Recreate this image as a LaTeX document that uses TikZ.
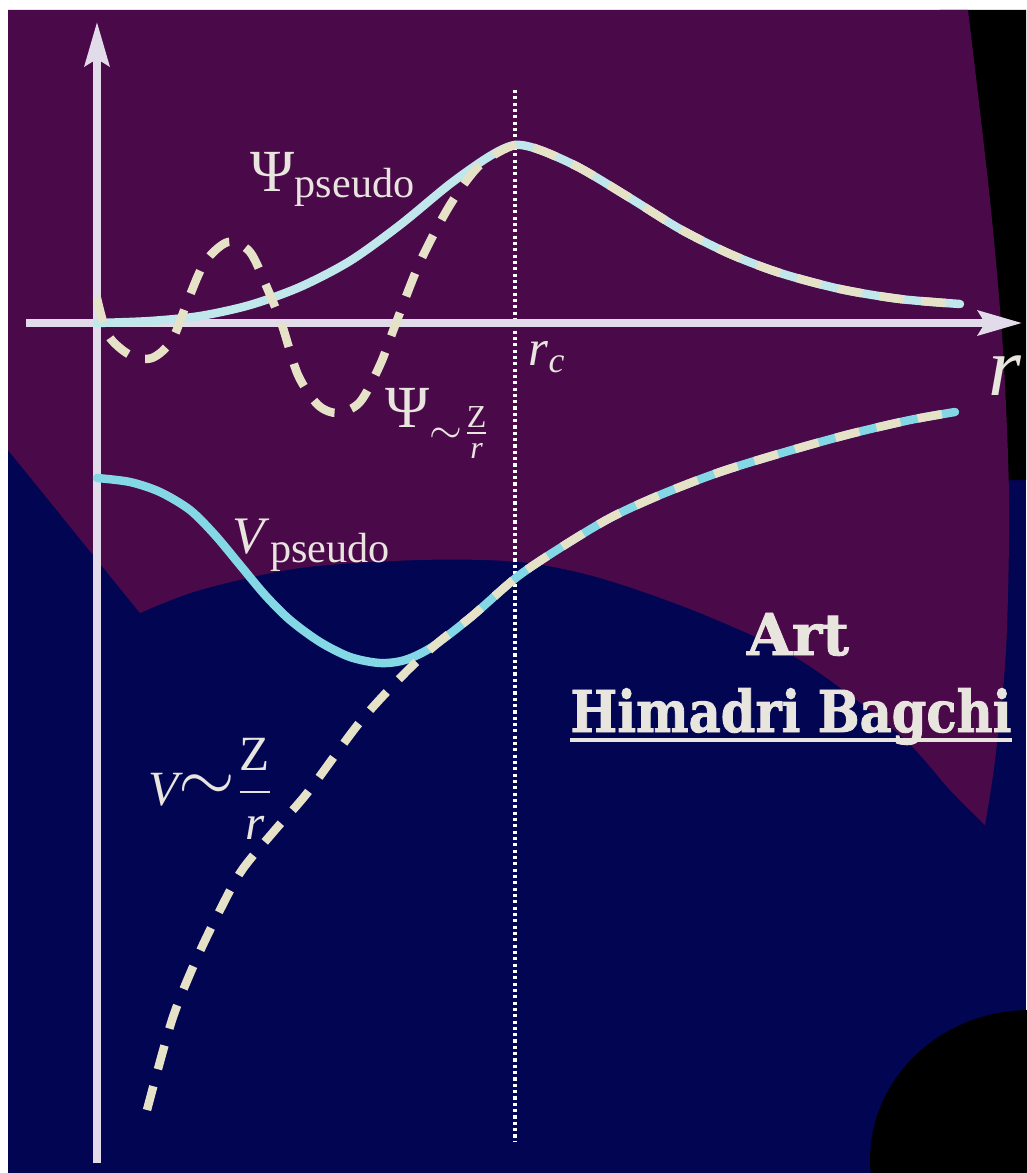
\documentclass[tikz,border=0pt]{standalone}
\usepackage{amsmath}
\usepackage{fontspec}
\setmainfont{Liberation Serif}
\newfontfamily\artfont{DejaVu Serif}[BoldFeatures={FakeBold=1.6}]
\usepackage{xcolor}
\usepackage{tikz}
\usetikzlibrary{arrows.meta, calc}
\definecolor{bgpurple}{HTML}{4A0A4A}
\definecolor{bgnavy}{HTML}{020652}
\definecolor{axiscol}{HTML}{E2DCEA}
\definecolor{psicol}{HTML}{C0E8EC}
\definecolor{vcol}{HTML}{84D8E6}
\definecolor{dashcol}{HTML}{E6E2C8}
\definecolor{labcol}{HTML}{E8E4DE}
\tikzset{
  axis/.style={
    line width=2pt,
    draw=axiscol,
    -{Stealth[length=12.5pt,width=7pt,inset=2pt]}
  },
  solidcurve/.style={
    line width=2.4pt,
    line cap=round
  },
  dashcurve/.style={
    line width=2.4pt,
    draw=dashcol,
    dash pattern=on 7pt off 5pt
  },
  lab/.style={
    text=labcol,
    inner sep=0pt
  },
  artlab/.style={
    text=labcol,
    inner sep=0pt,
    font=\artfont\bfseries\fontsize{16.4}{18}\selectfont
  }
}

\begin{document}
\begin{tikzpicture}[x=0.01cm, y=-0.01cm]
\useasboundingbox[fill=white] (0,0) rectangle (1026,1173);

% Background
\fill[bgnavy] (8,10) rectangle (1026,1173);
\fill[black] (940,10) -- (1026,10) -- (1026,480) -- (990,480) -- cycle;
\fill[bgpurple] (8,10) -- (968,10)
  -- plot[smooth] coordinates {(968,10) (990,200) (1003,350) (1009,500) (1006,650) (995,760) (985,825)}
  -- plot[smooth] coordinates {(985,825) (950,790) (900,735) (800,660) (700,613) (600,578) (520,562) (420,560) (300,568) (200,590) (140,613)}
  -- (8,450) -- cycle;
\fill[black] (1030,1160) ellipse [x radius=160, y radius=150];

% Coordinates
\coordinate (O) at (97,323);
\coordinate (ytop) at (97,22);
\coordinate (ybot) at (97,1163);
\coordinate (xleft) at (26,323);
\coordinate (xright) at (1022,323);
\coordinate (rctop) at (515,90);
\coordinate (rcbot) at (515,1142);

% Axes
\draw[white, line width=1.1pt, dash pattern=on 0.9pt off 0.9pt] (rctop) -- (rcbot);
\draw[axis] (ybot) -- (ytop);
\draw[axis] (xleft) -- (xright);

% Curves
\draw[solidcurve, psicol] plot[smooth] coordinates {(97,323) (150,321) (200,316) (250,305) (300,287) (350,261) (400,225) (450,184) (490,156) (515,145) (540,150) (580,168) (630,198) (680,229) (730,254) (780,273) (840,289) (900,299) (960,304)};
\draw[solidcurve, vcol] plot[smooth] coordinates {(97,478) (130,482) (160,492) (190,510) (215,535) (240,565) (265,595) (290,620) (320,642) (350,657) (380,663) (405,660) (432,647) (471,617) (517,577) (560,548) (610,518) (660,495) (720,472) (785,452) (850,434) (910,420) (955,412)};
\draw[dashcurve] plot[smooth] coordinates {(97,298) (108,335) (130,355) (152,358) (172,340) (188,300) (205,262) (228,242) (250,252) (268,290) (282,325) (298,375) (318,405) (338,413) (360,402) (380,365) (396,323) (420,262) (450,205) (480,165) (515,145) (540,150) (580,168) (630,198) (680,229) (730,254) (780,273) (840,289) (900,299) (960,304)};
\draw[dashcurve] plot[smooth] coordinates {(147,1110) (172,1020) (196,960) (220,910) (242,870) (275,830) (308,792) (360,722) (406,672) (440,641) (471,617) (517,577) (560,548) (610,518) (660,495) (720,472) (785,452) (850,434) (910,420) (955,412)};

% Labels
\node[lab, anchor=base west] (psip) at (250,192) {\fontsize{17}{17}\selectfont Ψ\raisebox{-1.7pt}{\fontsize{12}{12}\selectfont pseudo}};
\node[lab, anchor=base west] (psiz) at (385,427) {\fontsize{17}{17}\selectfont Ψ\raisebox{-4.8pt}{\fontsize{13}{13}\selectfont$\mathord{\sim}\frac{\mathrm{Z}}{\mathit{r}}$}};
\node[lab, anchor=base west] (vp) at (232,553) {\fontsize{15}{15}\selectfont\textit{V}\raisebox{-2.8pt}{\fontsize{12}{12}\selectfont pseudo}};
\node[lab, anchor=base west] (vz) at (148,805) {\fontsize{14}{14}\selectfont$\mathit{V}$\raisebox{1pt}{\fontsize{21}{21}\selectfont$\sim$}$\displaystyle\frac{\mathrm{Z}}{\mathit{r}}$};
\node[lab, anchor=base west] (rc) at (528,365) {\fontsize{14.5}{14.5}\selectfont$\mathit{r}_{\mathit{c}}$};
\node[lab, anchor=base west] (rlab) at (988,395) {\fontsize{24}{24}\selectfont\textit{r}};

% Signature
\node[artlab, anchor=base] (art) at (798,655) {Art};
\node[artlab, anchor=base] (name) at (791,732) {\scalebox{0.86}[1]{Himadri Bagchi}};
\draw[labcol, line width=1.1pt] ($(name.base west)+(0,8)$) -- ($(name.base east)+(0,8)$);
\end{tikzpicture}
\end{document}
